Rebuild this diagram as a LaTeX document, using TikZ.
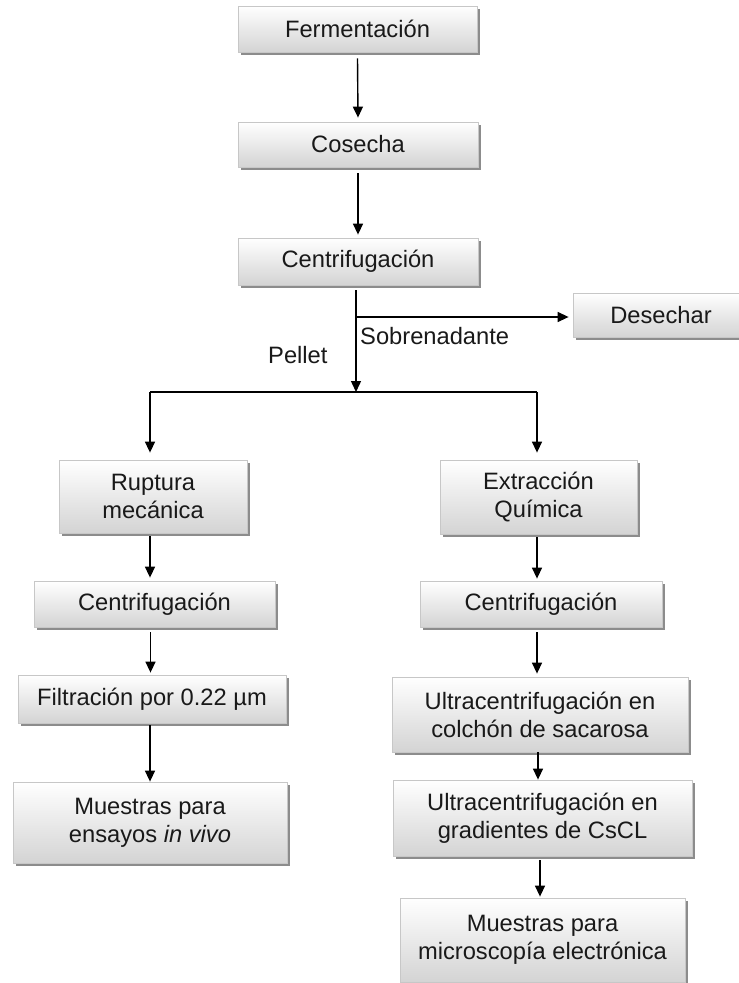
\documentclass[tikz,border=0pt]{standalone}
\usepackage{fontspec}
\setmainfont{Liberation Sans}
\usetikzlibrary{arrows.meta,shadows,calc}
\begin{document}
\begin{tikzpicture}[x=1pt,y=-1pt,
  stepbox/.style={draw=black!22, line width=0.8pt, top color=white, bottom color=black!17,
    drop shadow={shadow xshift=2.5pt, shadow yshift=-3pt, fill=black!45, opacity=1},
    inner sep=0pt, align=center, font=\fontsize{23.7}{28}\selectfont, text=black!90},
  conn/.style={line width=1.4pt, black},
  arr/.style={conn, -{Triangle[length=11pt,width=10pt]}},
  lbl/.style={inner sep=0pt, font=\fontsize{23.7}{28}\selectfont, text=black!90}]
\useasboundingbox (0,0) rectangle (739,983);
\fill[white] (0,0) rectangle (739,983);
\node[stepbox, minimum width=239pt, minimum height=46pt] (ferm) at (357.5,29) {Fermentación};
\node[stepbox, minimum width=240pt, minimum height=45pt] (cos) at (358,144.5) {Cosecha};
\node[stepbox, minimum width=240pt, minimum height=47pt] (cen1) at (358,261.5) {Centrifugación};
\node[stepbox, minimum width=176pt, minimum height=44pt] (des) at (661,315) {Desechar};
\node[stepbox, minimum width=188pt, minimum height=73pt] (rup) at (153,496.5) {Ruptura\\mecánica};
\node[stepbox, minimum width=197pt, minimum height=74pt] (ext) at (538.5,497) {Extracción\\Química};
\node[stepbox, minimum width=241pt, minimum height=46pt] (cenL) at (154.5,604) {Centrifugación};
\node[stepbox, minimum width=242pt, minimum height=46pt] (cenR) at (541,604) {Centrifugación};
\node[stepbox, minimum width=268pt, minimum height=48pt] (fil) at (152,699) {Filtración por 0.22 µm};
\node[stepbox, minimum width=274pt, minimum height=81pt] (viv) at (150,822.5) {Muestras para\\ensayos \textit{in vivo}};
\node[stepbox, minimum width=296pt, minimum height=75pt] (col) at (540,714.5) {Ultracentrifugación en\\colchón de sacarosa};
\node[stepbox, minimum width=299pt, minimum height=76pt] (gra) at (542.5,818) {Ultracentrifugación en\\gradientes de CsCL};
\node[stepbox, minimum width=285pt, minimum height=84pt] (mic) at (542.5,940) {Muestras para\\microscopía electrónica};

\node[lbl, anchor=west] (sob) at (360,336) {Sobrenadante};
\node[lbl, anchor=west] (pel) at (268,355) {Pellet};

\coordinate (top) at (356,290);
\coordinate (sj) at (356,317);
\coordinate (pj) at (356,392);
\coordinate (lj) at (150,392);
\coordinate (rj) at (537,392);

\draw[arr] ($(ferm.south)+(0,6)$) -- ($(cos.north)+(0,-4)$);
\draw[arr] ($(cos.south)+(0,6)$) -- ($(cen1.north)+(0,-3)$);
\draw[arr] (top) -- (pj);
\draw[arr] (sj) -- ($(des.west)+(-4,2)$);
\draw[conn] (lj) -- (rj);
\draw[arr] (lj) -- ($(lj |- rup.north)+(0,-7)$);
\draw[arr] (rj) -- ($(rj |- ext.north)+(0,-7)$);
\draw[arr] ($(rup.south)+(-3,3)$) -- ($(rup.south |- cenL.north)+(-3,-3)$);
\draw[arr] ($(cenL.south)+(-4,5)$) -- ($(cenL.south |- fil.north)+(-4,-2)$);
\draw[arr] ($(fil.south)+(-2,2)$) -- ($(fil.south |- viv.north)+(-2,0)$);
\draw[arr] ($(ext.south)+(-1.5,3)$) -- ($(ext.south |- cenR.north)+(-1.5,-2)$);
\draw[arr] ($(cenR.south)+(-4,5)$) -- ($(cenR.south |- col.north)+(-4,-3)$);
\draw[arr] ($(col.south)+(-2,0)$) -- ($(col.south |- gra.north)+(-2,0)$);
\draw[arr] ($(gra.south)+(-2.5,4)$) -- ($(gra.south |- mic.north)+(-2.5,-1)$);
\end{tikzpicture}
\end{document}
